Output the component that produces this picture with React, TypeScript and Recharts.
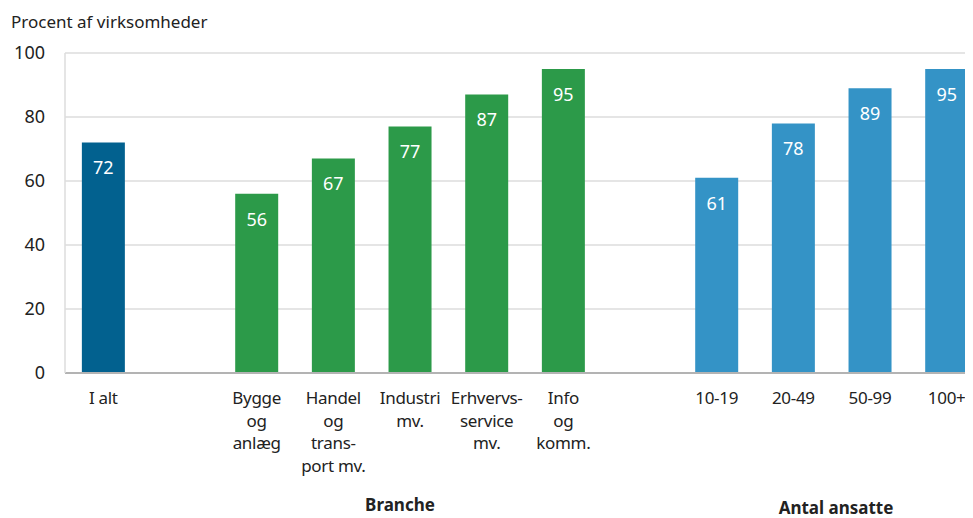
import React from "react";
import { BarChart, Bar, XAxis, YAxis, CartesianGrid, Cell, LabelList } from "recharts";

const categories = [
  "I alt",
  " ",
  "Bygge\nog\nanlæg",
  "Handel\nog\ntrans-\nport mv.",
  "Industri\nmv.",
  "Erhvervs-\nservice\nmv.",
  "Info\nog\nkomm.",
  "  ",
  "10-19",
  "20-49",
  "50-99",
  "100+",
];
const values = [72, null, 56, 67, 77, 87, 95, null, 61, 78, 89, 95];
const groups = ["total", "", "branche", "branche", "branche", "branche", "branche", "", "size", "size", "size", "size"];
const yTicks = [0, 20, 40, 60, 80, 100];

const groupColors: Record<string, string> = {
  total: "#02618F",
  branche: "#2C9A49",
  size: "#3493C6",
};

const data = categories.map((name, i) => ({ name, value: values[i], group: groups[i] }));

const FONT = "'Noto Sans', sans-serif";

function MultiLineTick(props: any) {
  const { x, y, payload } = props;
  const lines = String(payload.value).split("\n");
  return (
    <text x={x} y={y} textAnchor="middle" fill="#222" fontSize={17} letterSpacing={-0.3} fontFamily={FONT}>
      {lines.map((l, i) => (
        <tspan key={i} x={x} dy={i === 0 ? 25 : 22.5}>
          {l}
        </tspan>
      ))}
    </text>
  );
}

const groupLabel: React.CSSProperties = {
  position: "absolute",
  transform: "translateX(-50%)",
  fontSize: 17,
  lineHeight: "20px",
  fontWeight: 700,
  color: "#222",
  whiteSpace: "nowrap",
};

export default function App() {
  return (
    <div style={{ position: "relative", width: 965, height: 510, overflow: "hidden", fontFamily: FONT }}>
      <div style={{ position: "absolute", left: 3, top: 2, fontSize: 17, color: "#222" }}>
        Procent af virksomheder
      </div>
      <div style={{ ...groupLabel, left: 392, top: 487 }}>Branche</div>
      <div style={{ ...groupLabel, left: 828, top: 490 }}>Antal ansatte</div>
      <BarChart
        width={977}
        height={510}
        data={data}
        margin={{ top: 45, right: 0, bottom: 25, left: 0 }}
        barCategoryGap="22%"
        style={{ position: "absolute", left: 0, top: 0 }}
      >
        <CartesianGrid vertical={false} stroke="#dcdcdc" strokeWidth={1.5} />
        <XAxis
          dataKey="name"
          height={120}
          tickLine={false}
          axisLine={{ stroke: "#b3b3b3", strokeWidth: 2 }}
          tick={<MultiLineTick />}
          interval={0}
          tickSize={0}
          tickMargin={6}
        />
        <YAxis
          width={57}
          domain={[0, 100]}
          ticks={yTicks}
          tickLine={false}
          tickSize={0}
          tickMargin={20}
          axisLine={{ stroke: "#dcdcdc", strokeWidth: 1.5 }}
          tick={{ fill: "#222", fontSize: 18, fontFamily: FONT }}
        />
        <Bar dataKey="value" isAnimationActive={false}>
          {data.map((d, i) => (
            <Cell key={i} fill={groupColors[d.group] || "none"} />
          ))}
          <LabelList
            dataKey="value"
            position="insideTop"
            offset={19}
            fill="#fff"
            fontSize={18}
            fontFamily={FONT}
          />
        </Bar>
      </BarChart>
    </div>
  );
}
